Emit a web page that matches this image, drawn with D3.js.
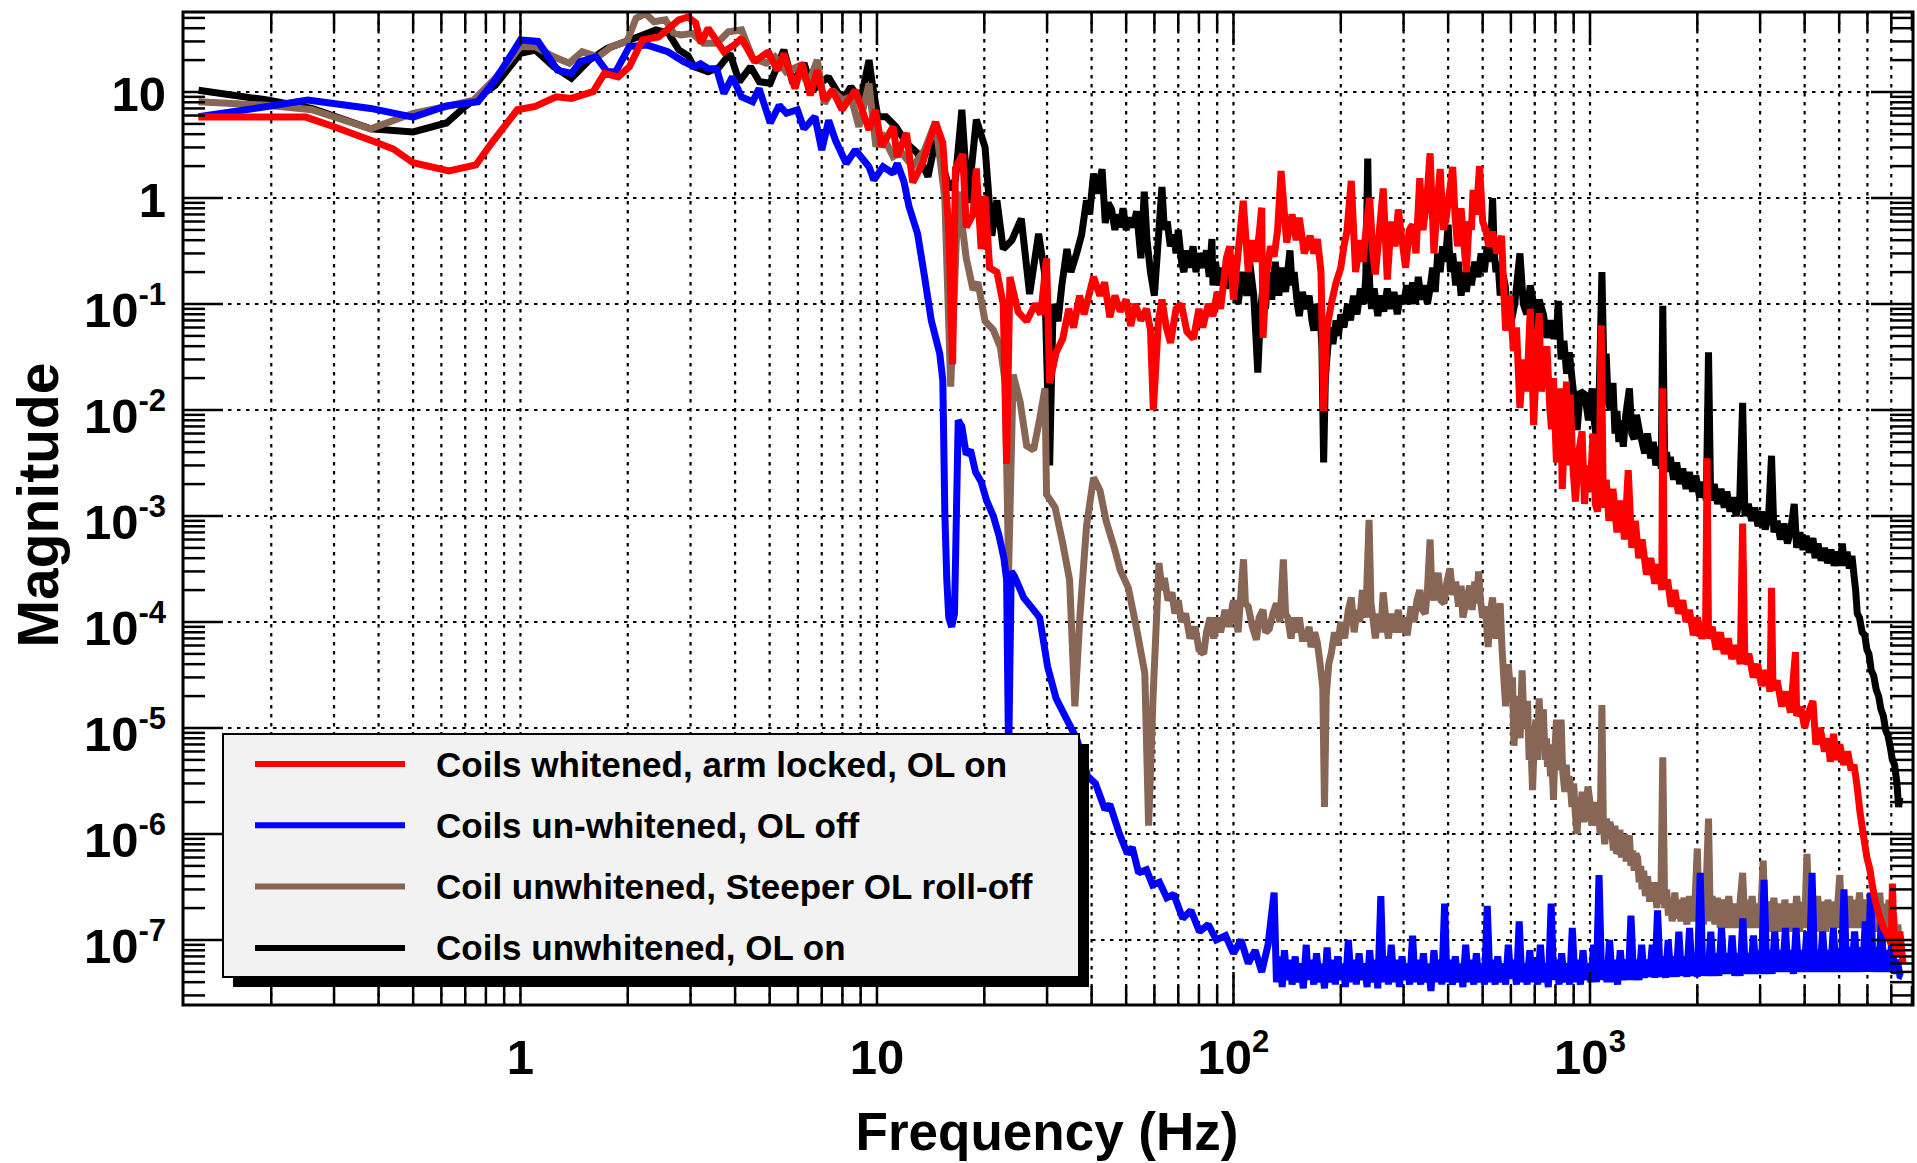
<!DOCTYPE html>
<html>
<head>
<meta charset="utf-8">
<script src="https://cdn.jsdelivr.net/npm/d3@7"></script>
<style>
body { margin: 0; background: #fff; }
text { font-family: "Liberation Sans", Arial, Helvetica, sans-serif; font-weight: bold; }
</style>
</head>
<body>
<svg id="chart"></svg>
<script>
// ---- data: [frequency Hz, magnitude] ----
var redSeries = [
[0.125,5.8],[0.18,5.8],[0.25,5.8],[0.3,4.7],[0.39,3.4],[0.44,2.9],[0.5,2.15],[0.63,1.8],[0.75,2.05],[0.83,3.3],[0.98,6.8],[1.1,7.3],[1.26,9.0],[1.39,8.7],[1.6,10.1],[1.72,15],[1.88,13.9],[2.02,17.3],[2.2,31],[2.44,33],[2.78,48],[2.95,51],[3.1,45],[3.21,29],[3.36,40],[3.72,24],[3.99,28],[4.17,32],[4.54,19.3],[4.96,24],[5.25,16],[5.48,23],[5.89,10.8],[6.16,18.7],[6.5,9.3],[6.8,16],[7.11,8.4],[7.5,10.4],[7.98,6.8],[8.69,10.4],[9.5,4.4],[9.9,6.8],[10.3,3.05],[11.1,4.7],[11.4,2.45],[12.1,4.1],[12.6,1.4],[13.4,2.1],[14.6,5.2],[15.3,3.3],[15.9,0.5],[16.3,0.027],[16.6,1.9],[17.4,2.6],[17.8,0.53],[18.6,0.7],[19.0,1.9],[19.6,0.33],[20.1,1.04],[20.7,0.22],[21.7,0.2],[22.6,0.1],[23.1,0.0031],[23.6,0.18],[24.9,0.084],[26.3,0.069],[27.8,0.1],[28.8,0.08],[29.9,0.27],[30.5,0.018],[31.8,0.035],[33.2,0.047],[34.5,0.09],[35.6,0.06],[37,0.12],[38.1,0.08],[40.5,0.18],[42.2,0.12],[43.5,0.16],[45,0.075],[46.5,0.12],[48.1,0.085],[50,0.11],[51.5,0.062],[53,0.1],[55,0.07],[57,0.09],[58.5,0.057],[59.6,0.01],[61.6,0.07],[63,0.11],[64.8,0.06],[66.6,0.043],[69,0.09],[71.4,0.1],[74,0.055],[77.2,0.047],[80,0.09],[82,0.06],[85,0.1],[87.6,0.077],[90,0.13],[92,0.09],[95.5,0.27],[97.6,0.35],[100,0.11],[103,0.3],[106.5,0.94],[110,0.2],[113,0.4],[115,0.25],[118,0.45],[120,0.81],[121,0.048],[124,0.2],[127,0.35],[130,0.28],[133,0.5],[136,1.8],[141,0.38],[146,0.7],[150,0.4],[153,0.65],[158,0.3],[164,0.44],[168,0.3],[172,0.41],[176,0.2],[179,0.0098],[183,0.06],[188,0.1],[194,0.16],[200,0.22],[204,0.35],[208,0.48],[214,1.45],[220,0.2],[227,0.4],[231,0.25],[236,0.56],[241,1.0],[246,0.3],[250,0.19],[256,0.45],[263,1.23],[270,0.17],[277,0.6],[284,0.35],[290,0.78],[297,0.4],[304,0.22],[311,0.5],[318,0.56],[325,0.3],[333,1.54],[340,0.5],[348,0.9],[356,2.64],[365,0.3],[372,0.8],[380,1.88],[388,0.5],[395,0.65],[403,1.1],[412,1.96],[418,0.7],[425,0.35],[435,0.8],[442,0.4],[450,0.2],[458,0.6],[465,0.5],[470,1.19],[480,0.7],[490,2.0],[500,0.6],[510,0.5],[520,0.35],[533,0.48],[548,0.3],[565,0.44],[572,0.15],[580,0.056],[595,0.12],[610,0.036],[622,0.06],[636,0.0105],[650,0.03],[665,0.015],[680,0.09],[695,0.0072],[708,0.03],[720,0.082],[730,0.015],[740,0.02],[757,0.04],[772,0.01],[780,0.0066],[790,0.02],[805,0.0032],[815,0.008],[826,0.016],[836,0.0018],[848,0.006],[859,0.0185],[868,0.003],[880,0.014],[895,0.003],[910,0.00137],[930,0.004],[950,0.0063],[965,0.0013],[980,0.003],[1000,0.0017],[1020,0.006],[1035,0.0013],[1050,0.0011],[1062,0.0025],[1075,0.063],[1090,0.0012],[1110,0.0022],[1130,0.0009],[1160,0.0018],[1190,0.0007],[1220,0.0014],[1250,0.0006],[1280,0.0027],[1310,0.0005],[1340,0.0009],[1370,0.0004],[1400,0.0006],[1440,0.00028],[1480,0.0004],[1520,0.00023],[1560,0.00035],[1590,0.0002],[1600,0.016],[1615,0.00022],[1650,0.00025],[1690,0.00014],[1730,0.0002],[1770,0.00012],[1820,0.00016],[1860,0.0001],[1900,0.00013],[1950,7.5e-5],[2000,1.1e-4],[2060,7e-5],[2110,9e-5],[2130,3.5e-3],[2150,7e-5],[2200,9e-5],[2260,5.5e-5],[2320,8e-5],[2380,5e-5],[2440,7e-5],[2500,4.5e-5],[2580,6e-5],[2640,4e-5],[2680,8.5e-4],[2720,4e-5],[2790,5e-5],[2870,3e-5],[2950,4e-5],[3030,2.5e-5],[3120,3.5e-5],[3200,2.2e-5],[3230,2.1e-4],[3260,2.3e-5],[3350,2.8e-5],[3450,1.6e-5],[3550,2.2e-5],[3650,1.4e-5],[3770,5.2e-5],[3800,1.3e-5],[3900,1.6e-5],[4000,1e-5],[4100,1.4e-5],[4220,1.8e-5],[4300,7e-6],[4420,1e-5],[4550,6e-6],[4650,8e-6],[4720,4.8e-6],[4820,8.8e-6],[4900,5e-6],[5020,7e-6],[5150,4.5e-6],[5280,6e-6],[5400,4e-6],[5500,4.5e-6],[5600,3e-6],[5720,1.6e-6],[5850,9.6e-7],[5980,6e-7],[6100,4.6e-7],[6200,3.2e-7],[6300,2.4e-7],[6450,1.8e-7],[6650,1.3e-7],[6850,1.1e-7],[7000,9e-8],[7050,3.4e-7],[7120,1.1e-7],[7260,7e-8],[7400,1.2e-7],[7550,6e-8]
];

var blueSeries = [
[0.125,5.85],[0.195,7.3],[0.253,8.4],[0.38,7.0],[0.5,5.8],[0.62,7.4],[0.76,8.1],[0.85,13],[1.0,31],[1.12,30],[1.27,16.1],[1.39,15],[1.47,19.3],[1.63,21.5],[1.75,15.5],[1.85,15.5],[2.02,26.8],[2.27,27.7],[2.59,24],[2.87,19.3],[3.08,17.3],[3.2,18.5],[3.36,16.7],[3.55,16.5],[3.72,9.7],[3.93,13.9],[4.17,9.0],[4.48,8.1],[4.67,10.8],[5.02,5.1],[5.32,7.5],[5.57,6.3],[5.98,6.8],[6.24,4.5],[6.7,5.85],[7.0,2.84],[7.32,5.4],[7.65,3.5],[8.2,2.12],[8.7,2.84],[9.5,1.97],[9.8,1.48],[10.4,1.97],[11.1,1.71],[11.4,2.12],[11.9,1.43],[12.3,0.83],[13.0,0.46],[13.6,0.18],[14.2,0.07],[15.0,0.034],[15.3,0.019],[15.5,1.07e-3],[15.7,2.5e-4],[15.9,1.1e-4],[16.2,9e-5],[16.5,1.2e-4],[16.9,8e-3],[17.3,7e-3],[17.8,3.8e-3],[18.3,4.2e-3],[18.9,2.6e-3],[19.6,2.1e-3],[20.3,1.4e-3],[21.2,1.0e-3],[22.0,6.5e-4],[22.7,4e-4],[23.1,2.5e-4],[23.4,5e-6],[23.8,3e-4],[24.3,2.7e-4],[25.8,1.7e-4],[27.5,1.3e-4],[28.6,1.1e-4],[30.1,3.8e-5],[31.8,1.9e-5],[34.1,1.2e-5],[36.3,8e-6],[39,3.5e-6],[41,3e-6],[43.6,1.7e-6],[45,1.9e-6],[47.9,1.0e-6],[50.4,6.5e-7],[52,7.5e-7],[54.2,4.3e-7],[57,4.6e-7],[59.3,3.3e-7],[62,3.5e-7],[65,2.5e-7],[68,2.7e-7],[72,1.6e-7],[76,1.9e-7],[80.3,1.2e-7],[85,1.4e-7],[89.5,1.0e-7],[95,1.1e-7],[100,7.5e-8],[105,1.0e-7],[110,6e-8],[115,8e-8],[120,5e-8],[125,9e-8],
[130,2.8e-7],[132,4e-8],[135,7e-8],[137,3.6e-8],[139,8e-8],[141,4.2e-8],[144,6.5e-8],[146,3.8e-8],[149,7e-8],[151,4e-8],[154,6e-8],[157,3.5e-8],[160,9e-8],[162,4.2e-8],[165,6.5e-8],[168,3.8e-8],[171,7.5e-8],[174,4e-8],[177,6e-8],[180,3.5e-8],[183,8.5e-8],[186,4e-8],[190,6.5e-8],[193,3.8e-8],[196,7e-8],[200,4.2e-8],[203,6e-8],[206,3.6e-8],[210,1e-7],[214,4e-8],[218,6.5e-8],[221,3.8e-8],[225,7.5e-8],[229,4.2e-8],[233,6e-8],[237,3.6e-8],[241,8e-8],[245,4e-8],[250,6.5e-8],[254,3.5e-8],[259,2.6e-7],[263,4e-8],[268,7e-8],[272,3.8e-8],[277,9e-8],[282,4e-8],[287,6.5e-8],[292,3.6e-8],[297,7e-8],[302,4.2e-8],[307,6e-8],[312,3.8e-8],[318,1.1e-7],[323,4e-8],[329,6.5e-8],[335,3.8e-8],[341,7.5e-8],[346,4e-8],[352,6e-8],[358,3.3e-8],[365,8e-8],[371,4e-8],[378,6.5e-8],[384,3.8e-8],[391,2.2e-7],[397,4e-8],[404,6.5e-8],[411,3.8e-8],[419,7e-8],[426,4e-8],[433,6e-8],[440,3.6e-8],[448,9e-8],[456,4e-8],[464,6.5e-8],[472,3.8e-8],[480,7.5e-8],[488,4e-8],[497,6e-8],[506,3.8e-8],[515,2.1e-7],[524,4e-8],[533,6.5e-8],[542,3.8e-8],[551,7e-8],[561,4e-8],[571,6e-8],[580,3.8e-8],[590,9e-8],[600,4.3e-8],[611,6.5e-8],[622,3.8e-8],[633,1.5e-7],[644,4e-8],[655,6e-8],[666,3.8e-8],[678,8e-8],[690,4e-8],[701,6.5e-8],[713,3.8e-8],[726,9e-8],[738,4e-8],[751,6e-8],[764,3.6e-8],[778,2.2e-7],[791,4.2e-8],[805,6.5e-8],[819,3.8e-8],[833,7.5e-8],[847,4e-8],[862,6e-8],[877,3.8e-8],[892,1.3e-7],[908,4e-8],[924,6.5e-8],[940,3.8e-8],[956,8e-8],[972,4.2e-8],[989,6e-8],[1006,4e-8],[1024,9e-8],[1042,4e-8],[1060,4.1e-7],[1078,4.2e-8],[1097,6.5e-8],[1116,4e-8],[1135,1e-7],[1155,4e-8],[1175,6.5e-8],[1195,3.8e-8],[1216,8e-8],[1237,4.2e-8],[1259,6.5e-8],[1281,4.2e-8],[1303,1.7e-7],[1325,4.2e-8],[1348,6.5e-8],[1372,4.2e-8],[1396,9e-8],[1420,4.4e-8],[1444,6.5e-8],[1469,4.5e-8],[1495,9e-8],[1521,4.4e-8],[1547,1.9e-7],[1574,4.5e-8],[1601,7e-8],[1629,4.4e-8],[1657,1e-7],[1686,4.5e-8],[1715,7e-8],[1745,4.5e-8],[1775,1.2e-7],[1806,4.6e-8],[1838,7e-8],[1870,4.5e-8],[1902,1.3e-7],[1935,4.6e-8],[1968,7e-8],[2002,4.5e-8],[2037,4.3e-7],[2073,4.6e-8],[2109,7e-8],[2145,4.6e-8],[2182,1.2e-7],[2220,4.6e-8],[2259,7.5e-8],[2298,4.6e-8],[2338,1.3e-7],[2379,4.8e-8],[2420,7.5e-8],[2462,4.8e-8],[2504,1.1e-7],[2548,4.6e-8],[2592,7.5e-8],[2637,4.6e-8],[2683,1.6e-7],[2730,4.8e-8],[2777,7.5e-8],[2825,4.8e-8],[2874,1.1e-7],[2924,4.8e-8],[2974,8e-8],[3026,4.8e-8],[3078,3.7e-7],[3132,4.8e-8],[3186,8e-8],[3242,4.8e-8],[3298,1.2e-7],[3355,5e-8],[3413,8e-8],[3472,5e-8],[3533,1.3e-7],[3594,5e-8],[3656,8e-8],[3720,4.8e-8],[3784,1.3e-7],[3850,5e-8],[3917,8e-8],[3985,5e-8],[4054,1.2e-7],[4124,5e-8],[4196,4.3e-7],[4269,5e-8],[4342,8e-8],[4418,5e-8],[4494,1.2e-7],[4572,5e-8],[4652,8e-8],[4732,5e-8],[4814,1.3e-7],[4898,5e-8],[4983,8e-8],[5069,5e-8],[5157,3e-7],[5247,5e-8],[5338,8.5e-8],[5430,5e-8],[5525,1.2e-7],[5620,5e-8],[5718,8.5e-8],[5817,5e-8],[5918,1.5e-7],[6020,5e-8],[6125,2.8e-7],[6231,5e-8],[6340,8.5e-8],[6450,5e-8],[6561,1.5e-7],[6675,5e-8],[6791,8e-8],[6909,5e-8],[7029,1e-7],[7151,4.8e-8],[7275,6.5e-8],[7400,4.6e-8],[7529,4.5e-8]
];

var brownSeries = [
[0.125,8.1],[0.195,7.5],[0.26,6.8],[0.38,4.5],[0.5,6.3],[0.62,7.3],[0.74,8.4],[0.85,13.5],[1.0,26.8],[1.1,26.8],[1.24,21.5],[1.37,18.7],[1.49,24],[1.65,21.5],[1.8,26.8],[1.99,30],[2.11,49.6],[2.24,55],[2.37,46],[2.55,48],[2.69,36],[2.82,34.5],[3.03,35.7],[3.26,28.8],[3.56,28.8],[3.83,37],[4.17,38.5],[4.48,20.8],[4.89,18.7],[5.17,21.5],[5.56,15.5],[5.98,17.3],[6.42,12],[6.8,20],[7.12,7.8],[7.5,10.4],[8.0,8.4],[8.45,9],[8.9,4.7],[9.5,12],[9.93,3.05],[10.3,4.08],[11.1,2.45],[11.7,2.7],[12.6,1.97],[13.6,2.84],[14.6,5.25],[15.5,0.98],[16.1,0.0166],[16.9,1.15],[17.4,0.5],[17.8,0.27],[18.6,0.136],[19.2,0.16],[20.1,0.069],[21.2,0.057],[22.2,0.039],[22.9,0.018],[23.4,3e-4],[24.1,0.0216],[25.2,0.012],[26.3,4.6e-3],[27.5,4.2e-3],[28.6,8.2e-3],[29.6,0.016],[29.9,1.6e-3],[31.6,1.2e-3],[33.2,5.5e-4],[34.7,2.5e-4],[35.9,1.6e-5],[37.1,1.15e-4],[38.7,8e-4],[40.5,2.3e-3],[42.2,1.75e-3],[44,8.8e-4],[46.4,4.9e-4],[48.1,3.1e-4],[50.7,2.1e-4],[53.5,8.6e-5],[56.4,3.3e-5],[57.8,1.2e-6],[59.5,2e-5],
[61.8,3.6e-4],[63,2e-4],[64,2.6e-4],[65.5,1.6e-4],[67.2,1.9e-4],[68.5,1.2e-4],[70,1.6e-4],[71.5,1e-4],[73.4,1.2e-4],[75.5,7e-5],[78,9e-5],[80,5.5e-5],[82.5,5e-5],[84,8e-5],[86,1.1e-4],[88,7e-5],[90,1.1e-4],[92,8e-5],[94.7,1.3e-4],[97,9e-5],[100,1.6e-4],[103,8e-5],[106.7,3.9e-4],[108,1.5e-4],[110,1.4e-4],[113,9e-5],[116,6.8e-5],[118,1.1e-4],[121,1.3e-4],[123,8e-5],[126,8.6e-5],[129,1.2e-4],[132,1.5e-4],[135,1e-4],[138,3.9e-4],[140,1.2e-4],[142,1.1e-4],[145,7e-5],[148,1.1e-4],[150,8e-5],[153,1.1e-4],[156,7e-5],[160,7e-5],[163,9e-5],[165,5.8e-5],[169,8e-5],[172,6.3e-5],[175,4e-5],[178,2.4e-5],[180,1.8e-6],[182,2e-5],[185,4e-5],[188,5e-5],[192,8e-5],[196,6e-5],[200,1e-4],[205,7e-5],[210,1.3e-4],[214,1.7e-4],[218,8e-5],[222,1.3e-4],[226,1e-4],[230,2e-4],[235,1.1e-4],[240,9.2e-4],[243,1.5e-4],[246,1.1e-4],[250,7e-5],[255,1.2e-4],[259,8e-5],[263,1.9e-4],[268,1e-4],[272,7e-5],[277,1.2e-4],[283,8e-5],[290,1.3e-4],[295,8e-5],[300,1.1e-4],[307,7.5e-5],[315,1.4e-4],[321,1e-4],[327,1.6e-4],[333,2e-4],[339,1.3e-4],[345,1.2e-4],[350,2e-4],[356,6e-4],[360,2e-4],[365,1.6e-4],[370,2.4e-4],[375,2.9e-4],[382,1.6e-4],[390,1.5e-4],[397,2.4e-4],[405,3.2e-4],[412,1.8e-4],[420,2.4e-4],[428,1.4e-4],[435,2.2e-4],[440,1.1e-4],[450,1.6e-4],[460,2.2e-4],[467,1.3e-4],[475,2.4e-4],[481,1.5e-4],[487,3e-4],[493,1.6e-4],[500,1.1e-4],[509,1.4e-4],[518,5.8e-5],[525,1.2e-4],[533,1.7e-4],[539,9e-5],[545,7e-5],[552,1.1e-4],[560,1.5e-4],[566,6e-5],[573,3e-5],
[580,1.6e-5],[590,4e-5],[600,2e-5],[606,3e-5],[612,6.8e-6],[620,1.5e-5],[630,2e-5],[637,8e-6],[645,3.5e-5],[652,1.2e-5],[660,1e-5],[668,1.8e-5],[675,5e-6],[682,8e-6],[690,2.6e-6],[698,8e-6],[705,1.2e-5],[712,5e-6],[720,1.9e-5],[728,7e-6],[735,1.3e-5],[740,1.5e-5],[748,5e-6],[755,8e-6],[760,4.3e-6],[768,7e-6],[775,3.5e-6],[782,5e-6],[790,2.1e-6],[797,6e-6],[805,1.2e-5],[812,4e-6],[820,6e-6],[830,1.2e-5],[838,4e-6],[845,3e-6],[850,2.5e-6],[858,4.5e-6],[866,2.5e-6],[873,3.5e-6],[880,3e-6],[890,1.8e-6],[900,3e-6],[910,1.5e-6],[920,1e-6],[930,2.2e-6],[940,1.4e-6],[950,2.5e-6],[962,1.3e-6],[975,1.7e-6],[987,2.8e-6],[1000,2e-6],[1012,1.2e-6],[1025,2e-6],[1040,1.2e-6],[1055,1.8e-6],[1068,1e-6],[1080,1.65e-5],[1090,1.2e-6],[1100,8e-7],[1112,1.4e-6],[1125,9e-7],[1137,1.3e-6],[1150,1.1e-6],[1163,7e-7],[1175,1.2e-6],[1188,6.5e-7],[1200,7e-7],[1213,1.1e-6],[1225,6e-7],[1238,9e-7],[1250,1e-6],[1263,5.5e-7],[1276,8e-7],[1290,9.7e-7],[1303,5e-7],[1317,7e-7],[1330,4.5e-7],[1345,6.5e-7],[1360,6e-7],[1374,3.5e-7],[1388,5e-7],[1400,3e-7],
[1415,4.5e-7],[1430,2.6e-7],[1450,4e-7],[1470,2.3e-7],[1485,3.5e-7],[1500,2.5e-7],[1520,3.5e-7],[1540,2e-7],[1560,3.5e-7],[1580,2.2e-7],[1600,5.3e-6],[1620,2e-7],[1640,3e-7],[1660,1.7e-7],[1680,2.5e-7],[1700,1.5e-7],[1730,2.8e-7],[1750,1.6e-7],[1775,2.4e-7],[1800,1.5e-7],[1835,2.5e-7],[1870,1.4e-7],[1900,2.6e-7],[1940,1.5e-7],[1970,2.3e-7],[2000,7.3e-7],[2025,1.5e-7],[2050,2.5e-7],[2080,1.4e-7],[2110,2.2e-7],[2150,1.4e-6],[2175,1.5e-7],[2200,2.6e-7],[2240,1.4e-7],[2280,2.5e-7],[2320,1.3e-7],[2370,2.4e-7],[2410,1.3e-7],[2450,2.6e-7],[2500,1.3e-7],[2550,2.2e-7],[2600,1.3e-7],[2640,2.4e-7],[2680,4.3e-7],[2720,1.3e-7],[2760,2.4e-7],[2800,1.3e-7],[2850,2.6e-7],[2900,1.3e-7],[2950,2.2e-7],[3000,1.3e-7],[3060,5.6e-7],[3100,1.3e-7],[3150,2.3e-7],[3210,1.2e-7],[3280,2.5e-7],[3340,1.2e-7],[3400,2.2e-7],[3460,1.2e-7],[3520,2.4e-7],[3590,1.2e-7],[3650,2.2e-7],[3720,1.2e-7],[3800,2.6e-7],[3870,1.2e-7],[3950,2.3e-7],[4000,1.3e-7],[4060,6.5e-7],[4130,1.3e-7],[4200,2.4e-7],[4280,1.3e-7],[4350,2.6e-7],[4430,1.2e-7],[4500,2.3e-7],[4580,1.2e-7],[4650,2.4e-7],[4730,1.3e-7],[4800,2.3e-7],[4900,1.3e-7],[5020,4.1e-7],[5080,1.3e-7],[5150,2.4e-7],[5250,1.3e-7],[5350,2.6e-7],[5430,1.3e-7],[5500,2.4e-7],[5600,1.3e-7],[5700,2.8e-7],[5800,1.3e-7],[5900,2.4e-7],[6000,1.3e-7],[6100,2.6e-7],[6200,1.2e-7],[6300,2.3e-7],[6400,1.2e-7],[6500,2.8e-7],[6600,1.1e-7],[6700,2.2e-7],[6800,1.1e-7],[6900,2.4e-7],[7000,1e-7],[7100,1.8e-7],[7200,9e-8],[7300,1.4e-7],[7400,8e-8],[7500,7e-8]
];

var blackSeries = [
[0.125,10.4],[0.195,8.4],[0.26,7.0],[0.38,4.5],[0.5,4.2],[0.62,5.1],[0.7,7.3],[0.85,11.6],[1.0,23.2],[1.1,24.9],[1.24,17.3],[1.39,13.5],[1.56,20],[1.75,25.8],[2.08,32],[2.4,38.5],[2.6,36],[2.78,25],[2.95,22],[3.07,17.3],[3.36,15.5],[3.6,17],[3.87,23],[4.11,12.5],[4.42,17.3],[4.68,12.5],[5.02,12.1],[5.48,25],[5.81,12.1],[6.24,18.7],[6.6,10.4],[7.3,13.9],[8.0,8.4],[8.45,11.2],[9.0,8.4],[9.5,20],[9.7,12],[10.05,5.85],[10.6,5.85],[11.3,4.7],[12.1,3.3],[13.0,2.64],[13.9,1.59],[14.6,3.5],[15.3,2.0],[16.0,1.2],[16.6,1.5],[17.3,6.8],[18.0,0.9],[19.0,5.5],[20.1,3.0],[21.0,0.44],[21.7,0.95],[22.6,0.33],[23.9,0.4],[25.4,0.64],[26.8,0.124],[28.4,0.46],[29.5,0.2],
[30.5,0.003],[31.2,0.1],[32.2,0.069],[33,0.15],[34.1,0.33],[35,0.2],[36.3,0.3],[37.5,0.45],[38.7,0.95],[39.5,0.7],[40.5,1.7],[41.5,1.1],[42.8,1.87],[43.7,0.58],[44.5,0.9],[45.5,0.78],[46.5,0.5],[47.3,0.7],[48.1,0.53],[49,0.8],[50,0.5],[51,0.65],[52.3,0.53],[53.5,0.75],[55,0.27],[56.2,1.15],[57.2,0.4],[58.5,0.2],[60,0.12],[61.5,0.4],[63,1.27],[64,0.5],[65.2,0.6],[66.5,0.35],[68,0.45],[69,0.3],[70,0.5],[71.5,0.25],[72.6,0.2],[74,0.32],[75.5,0.22],[77,0.35],[78.5,0.2],[80,0.3],[82.4,0.22],[84,0.32],[85.5,0.18],[87,0.41],[87.6,0.15],[89,0.25],[91,0.15],[93,0.22],[95,0.14],[97,0.2],[100,0.18],
[103,0.1],[106,0.2],[109,0.12],[111,0.25],[114,0.12],[117,0.0225],[119,0.08],[121,0.15],[123,0.09],[125,0.2],[128,0.11],[131,0.25],[134,0.12],[137,0.22],[140,0.13],[144,0.32],[146,0.15],[148,0.2],[151,0.1],[153,0.077],[156,0.13],[160,0.09],[163,0.12],[166,0.07],[168,0.056],[171,0.1],[175,0.08],[177,0.04],[179,3.2e-3],[181,0.02],[184,0.04],[187,0.06],[190,0.042],[194,0.07],[197,0.05],[200,0.08],[204,0.06],[209,0.1],[213,0.07],[217,0.12],[222,0.08],[227,0.14],[232,0.1],[235,0.18],[238,2.35],[241,0.15],[244,0.09],[248,0.14],[254,0.077],[259,0.12],[264,0.085],[270,0.14],[276,0.09],[282,0.13],[288,0.08],[294,0.12],[300,0.1],[306,0.15],[312,0.1],[318,0.16],[324,0.1],[330,0.18],[336,0.11],[343,0.15],[350,0.1],[356,0.14],[362,0.22],[368,0.13],[374,0.3],[380,0.2],[386,0.35],[393,0.25],[400,0.56],[406,0.2],[412,0.3],[420,0.15],[427,0.25],[435,0.12],[443,0.2],[450,0.13],[458,0.22],[465,0.15],[475,0.25],[485,0.18],[495,0.3],[505,0.2],[515,0.35],[525,0.25],[533,1.0],[539,0.3],[545,0.2],[552,0.25],[560,0.12],[568,0.2],[578,0.15],[587,0.08],[595,0.057],
[615,0.1],[636,0.3],[650,0.1],[665,0.08],[680,0.15],[695,0.1],[708,0.06],[720,0.11],[740,0.08],[757,0.048],[775,0.07],[790,0.05],[805,0.05],[815,0.107],[830,0.03],[845,0.045],[860,0.022],[875,0.035],[890,0.02],[905,0.012],[920,0.0065],[940,0.015],[967,0.014],[990,0.008],[1014,0.016],[1027,0.008],[1040,0.0057],[1060,0.012],[1080,0.2],[1095,0.02],[1110,0.034],[1125,0.012],[1143,0.01],[1160,0.018],[1175,0.006],[1190,0.0098],[1205,0.005],[1220,0.008],[1240,0.0045],[1260,0.009],[1290,0.016],[1310,0.006],[1330,0.0053],[1350,0.009],[1380,0.006],[1400,0.005],[1424,0.0039],[1450,0.006],[1480,0.0035],[1505,0.005],[1530,0.003],[1560,0.0045],[1585,0.0028],[1600,0.096],[1620,0.003],[1640,0.004],[1660,0.0026],[1680,0.0036],[1715,0.0022],[1750,0.0032],[1785,0.002],[1820,0.0028],[1860,0.0018],[1900,0.0026],[1940,0.0017],[1980,0.0024],[2030,0.0015],[2080,0.0021],[2120,0.0014],[2150,0.035],[2180,0.0014],[2230,0.002],[2280,0.0013],[2330,0.0018],[2380,0.0012],[2420,0.0017],[2470,0.0011],[2520,0.0015],[2570,0.001],[2630,0.0014],[2680,0.0117],[2720,0.001],[2780,0.0013],[2840,0.0009],[2900,0.0012],[2960,0.0008],[3030,0.0011],[3100,0.00075],[3170,0.001],[3230,0.0037],[3280,0.0007],[3350,0.0009],[3420,0.0006],[3500,0.00085],[3580,0.00055],[3660,0.00075],[3740,0.0013],[3800,0.0005],[3880,0.0007],[3960,0.00048],[4040,0.00065],[4120,0.00045],[4220,0.00062],[4280,0.0004],[4360,0.00055],[4450,0.00038],[4550,0.0005],[4640,0.00036],[4740,0.00048],[4840,0.00034],[4940,0.00046],[5030,0.00034],[5100,0.00055],[5180,0.00034],[5260,0.00046],[5340,0.00032],[5430,0.00042],[5500,0.00028],[5560,0.0002],[5620,0.00012],[5700,0.00011],[5800,8e-5],[5900,7.5e-5],[5980,5.5e-5],[6060,5e-5],[6150,3.5e-5],[6250,3.1e-5],[6350,2.3e-5],[6450,2e-5],[6550,1.5e-5],[6650,1.3e-5],[6750,9.5e-6],[6850,8.5e-6],[6960,6.5e-6],[7050,5e-6],[7150,4.5e-6],[7260,3e-6],[7340,1.8e-6],[7400,2.2e-6]
];

var xTickValues = [1, 10, 100, 1000];
var xTickText = ["1", "10", "10^2", "10^3"];
var yTickValues = [10, 1, 1e-1, 1e-2, 1e-3, 1e-4, 1e-5, 1e-6, 1e-7];
var yTickText = ["10", "1", "10^-1", "10^-2", "10^-3", "10^-4", "10^-5", "10^-6", "10^-7"];

var legendNames = ["Coils whitened, arm locked, OL on", "Coils un-whitened, OL off",
                   "Coil unwhitened, Steeper OL roll-off", "Coils unwhitened, OL on"];
var legendColors = ["#ff0000", "#0000ff", "#876656", "#000000"];

// ---- layout ----
var svgWidth = 1917, svgHeight = 1163;
var frameLeft = 183, frameRight = 1913, frameTop = 12, frameBottom = 1005;

var svg = d3.select('svg')
            .attr('width', svgWidth)
            .attr('height', svgHeight);
svg.append('rect').attr('width', svgWidth).attr('height', svgHeight).attr('fill', '#fff');

var x = d3.scaleLog().domain([0.1131, 8054]).range([frameLeft, frameRight]);
var y = d3.scaleLog().domain([2.436e-8, 56.86]).range([frameBottom, frameTop]);

function isDecade(v) {
  var l = Math.log10(v);
  return Math.abs(l - Math.round(l)) < 1e-6;
}

var xTicks = x.ticks(20);
var yTicks = y.ticks(20);

// grid (dotted)
var grid = svg.append('g').attr('stroke', '#000').attr('stroke-width', 2.2).attr('stroke-dasharray', '3.5,5.5');
grid.selectAll('line.vx')
    .data(xTicks.filter(function(d){ return x(d) > frameLeft + 2 && x(d) < frameRight - 2; }))
    .enter().append('line')
    .attr('x1', function(d){ return x(d); }).attr('x2', function(d){ return x(d); })
    .attr('y1', frameTop).attr('y2', frameBottom);
grid.selectAll('line.hy')
    .data(yTicks.filter(function(d){ return isDecade(d) && y(d) > frameTop + 2 && y(d) < frameBottom - 2; }))
    .enter().append('line')
    .attr('x1', frameLeft).attr('x2', frameRight)
    .attr('y1', function(d){ return y(d); }).attr('y2', function(d){ return y(d); });

// data lines
svg.append('clipPath').attr('id', 'frameClip')
   .append('rect').attr('x', frameLeft).attr('y', frameTop)
   .attr('width', frameRight - frameLeft).attr('height', frameBottom - frameTop);

var line = d3.line()
             .x(function(d){ return x(d[0]); })
             .y(function(d){ return y(d[1]); });

var drawOrder = [
  {data: blackSeries, color: legendColors[3]},
  {data: brownSeries, color: legendColors[2]},
  {data: blueSeries,  color: legendColors[1]},
  {data: redSeries,   color: legendColors[0]}
];
svg.append('g').attr('clip-path', 'url(#frameClip)')
   .selectAll('path').data(drawOrder).enter().append('path')
   .attr('d', function(s){ return line(s.data); })
   .attr('fill', 'none')
   .attr('stroke', function(s){ return s.color; })
   .attr('stroke-width', 7)
   .attr('stroke-linejoin', 'miter')
   .attr('stroke-miterlimit', 1.5);

// ticks
var ticks = svg.append('g').attr('stroke', '#000').attr('stroke-width', 2.5);
xTicks.forEach(function(d) {
  var px = x(d);
  if (px <= frameLeft || px >= frameRight) return;
  var len = isDecade(d) ? 33 : 19;
  ticks.append('line').attr('x1', px).attr('x2', px).attr('y1', frameBottom).attr('y2', frameBottom - len);
  ticks.append('line').attr('x1', px).attr('x2', px).attr('y1', frameTop).attr('y2', frameTop + len);
});
yTicks.forEach(function(d) {
  var py = y(d);
  if (py <= frameTop || py >= frameBottom) return;
  var big = isDecade(d);
  ticks.append('line').attr('x1', frameLeft).attr('x2', frameLeft + (big ? 40 : 22)).attr('y1', py).attr('y2', py);
  ticks.append('line').attr('x1', frameRight).attr('x2', frameRight - (big ? 42 : 23)).attr('y1', py).attr('y2', py);
});

// frame
svg.append('rect').attr('x', frameLeft).attr('y', frameTop)
   .attr('width', frameRight - frameLeft).attr('height', frameBottom - frameTop)
   .attr('fill', 'none').attr('stroke', '#000').attr('stroke-width', 3);

// tick labels with superscripts
function writeLabel(t, txt) {
  var parts = txt.split('^');
  t.append('tspan').text(parts[0]);
  if (parts.length > 1) {
    t.append('tspan').attr('dy', -22).attr('font-size', 31).text(parts[1]);
  }
}
yTickValues.forEach(function(v, i) {
  var sup = yTickText[i].indexOf('^') >= 0;
  var t = svg.append('text')
             .attr('x', 166).attr('y', y(v) + (sup ? 23 : 19))
             .attr('text-anchor', 'end').attr('font-size', 49);
  writeLabel(t, yTickText[i]);
});
xTickValues.forEach(function(v, i) {
  var t = svg.append('text')
             .attr('x', x(v)).attr('y', 1074)
             .attr('text-anchor', 'middle').attr('font-size', 49);
  writeLabel(t, xTickText[i]);
});

// axis titles
svg.append('text').attr('x', 1047).attr('y', 1150)
   .attr('text-anchor', 'middle').attr('font-size', 53)
   .text('Frequency (Hz)');
svg.append('text').attr('transform', 'translate(58,505) rotate(-90)')
   .attr('text-anchor', 'middle').attr('font-size', 57)
   .text('Magnitude');

// legend
var lg = svg.append('g');
lg.append('rect').attr('x', 233).attr('y', 744).attr('width', 856).attr('height', 243).attr('fill', '#000');
lg.append('rect').attr('x', 223).attr('y', 734).attr('width', 856).attr('height', 243)
  .attr('fill', '#f2f2f2').attr('stroke', '#000').attr('stroke-width', 2);
var entries = lg.selectAll('g.entry').data(legendNames).enter().append('g')
  .attr('transform', function(d, i){ return 'translate(0,' + (764 + i * 61.3) + ')'; });
entries.append('line').attr('x1', 255).attr('x2', 405).attr('y1', 0).attr('y2', 0)
  .attr('stroke', function(d, i){ return legendColors[i]; }).attr('stroke-width', 6);
entries.append('text').attr('x', 436).attr('y', 12.5).attr('font-size', 35)
  .text(function(d){ return d; });
</script>
</body>
</html>
